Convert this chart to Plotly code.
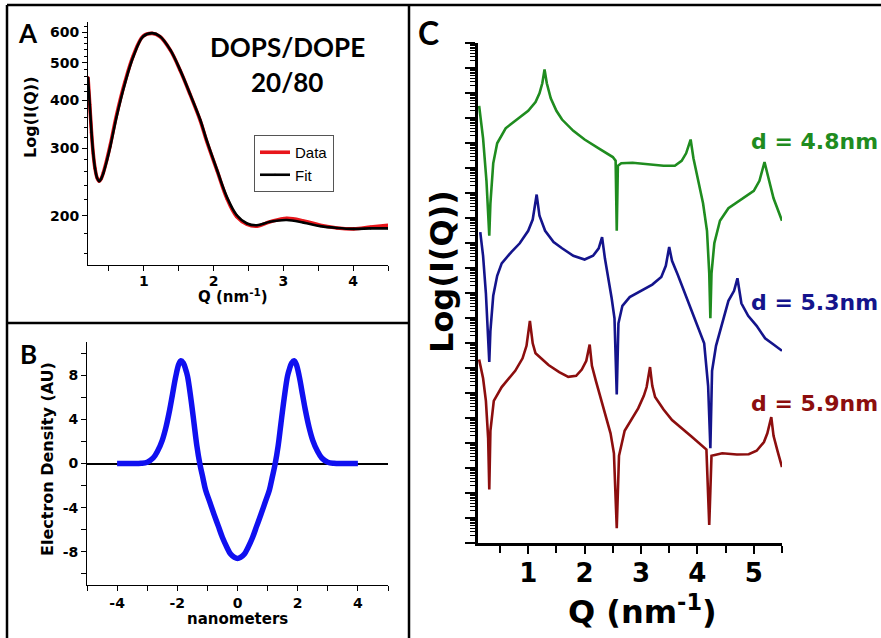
import plotly.graph_objects as go
import numpy as np

W, H = 881, 638
def X(p): return p / W
def Y(p): return 1 - p / H

# ---------------- Panel A: scattering curve ----------------
qA = [0.2, 0.225, 0.25, 0.275, 0.30, 0.33, 0.36, 0.39, 0.42, 0.47, 0.52, 0.61, 0.73,
      0.85, 0.99, 1.12, 1.23, 1.38, 1.52, 1.66, 1.81, 1.90, 2.05, 2.19, 2.33, 2.48,
      2.62, 2.81, 3.05, 3.29, 3.53, 3.77, 4.01, 4.25, 4.5]
fitA = [458, 390, 330, 290, 266, 251, 246, 250, 258, 278, 303, 362, 442,
        519, 585, 597, 586, 540, 479, 416, 355, 315, 263, 224, 201, 191,
        189, 193, 195, 192, 188, 186, 185, 185.5, 185.5]
dataA = [458, 390, 330, 290, 266, 251, 246, 250, 259, 280, 306, 366, 446,
         522, 586, 596, 585, 539, 478, 415, 353, 313, 262, 222, 199, 190,
         188, 193, 197, 194, 189, 186, 185, 187, 189]
yA_ticks = [200, 300, 400, 500, 600]
yA_minor = [160, 180, 220, 240, 260, 280, 320, 340, 360, 380, 420, 440, 460, 480,
            520, 540, 560, 580, 620]
xA_ticks = [1, 2, 3, 4]

# ---------------- Panel B: electron density ----------------
half_x = [-4.0, -3.5, -3.2, -3.0, -2.8, -2.65, -2.5, -2.38, -2.25, -2.16, -2.05, -1.95,
          -1.88, -1.8, -1.72, -1.66, -1.55, -1.44, -1.35, -1.25, -1.15, -1.06, -0.92,
          -0.78, -0.64, -0.5, -0.35, -0.23, -0.1, 0.0]
half_rho = [0, 0, 0.02, 0.12, 0.5, 1.15, 2.1, 3.25, 4.9, 6.25, 7.9, 9.0,
            9.3, 9.1, 8.5, 7.9, 5.9, 3.55, 1.6, -0.05, -1.3, -2.4, -3.5,
            -4.6, -5.65, -6.7, -7.6, -8.2, -8.5, -8.6]
xB = half_x + [-v for v in half_x[-2::-1]]
rhoB = half_rho + half_rho[-2::-1]
xB_ticks = [-4, -2, 0, 2, 4]
xB_text = ["-4", "-2", "0", "2", "4"]
yB_ticks = [-8, -4, 0, 4, 8]
yB_text = ["-8", "-4", "0", "4", "8"]

# ---------------- Panel C: simulated curves (log10 intensity, decades) ----------------
qG = [0.13, 0.2, 0.26, 0.30, 0.31, 0.33, 0.38, 0.45, 0.6, 0.8, 1.0, 1.13, 1.2, 1.25, 1.29,
      1.33, 1.4, 1.5, 1.6, 1.8, 2.0, 2.25, 2.5, 2.55, 2.57, 2.59, 2.65, 2.85, 3.1, 3.4,
      3.6, 3.72, 3.8, 3.88, 3.93, 4.0, 4.1, 4.17, 4.21, 4.23, 4.25, 4.3, 4.4, 4.55, 4.75,
      5.0, 5.1, 5.19, 5.25, 5.35, 5.5]
vG = [17.5, 16.2, 14.5, 12.8, 12.3, 13.6, 15.2, 16.0, 16.6, 16.95, 17.3, 17.65, 18.0, 18.4, 18.95,
      18.4, 17.8, 17.3, 16.95, 16.5, 16.15, 15.8, 15.45, 15.3, 12.5, 15.1, 15.2, 15.22, 15.17, 15.1,
      15.1, 15.3, 15.6, 16.15, 15.4, 14.7, 13.6, 12.5, 10.8, 9.0, 10.8, 12.0, 12.9, 13.4, 13.7,
      14.1, 14.5, 15.25, 14.7, 13.8, 12.9]
qBl = [0.15, 0.2, 0.25, 0.29, 0.31, 0.33, 0.38, 0.45, 0.53, 0.7, 0.85, 1.0, 1.08, 1.15, 1.2,
       1.3, 1.45, 1.6, 1.8, 2.0, 2.15, 2.25, 2.31, 2.36, 2.41, 2.48, 2.53, 2.57, 2.60, 2.67,
       2.8, 3.0, 3.2, 3.36, 3.44, 3.5, 3.55, 3.65, 3.8, 4.0, 4.12, 4.19, 4.23, 4.26, 4.33,
       4.41, 4.55, 4.65, 4.71, 4.78, 4.9, 5.05, 5.2, 5.35, 5.5]
vBl = [12.45, 11.5, 10.0, 8.5, 7.25, 8.5, 9.9, 10.7, 11.2, 11.65, 12.0, 12.5, 12.95, 13.95, 13.1,
       12.5, 12.05, 11.8, 11.5, 11.35, 11.5, 11.8, 12.25, 11.4, 10.8, 9.8, 9.0, 5.95, 8.8, 9.5,
       9.85, 10.1, 10.35, 10.65, 11.1, 11.85, 11.3, 10.75, 9.9, 8.7, 8.0, 6.3, 3.8, 6.9, 7.9,
       8.55, 9.7, 10.1, 10.6, 9.6, 9.1, 8.7, 8.2, 7.95, 7.7]
qR = [0.13, 0.2, 0.25, 0.29, 0.31, 0.33, 0.39, 0.53, 0.77, 0.9, 0.97, 1.03, 1.08, 1.13, 1.36,
      1.55, 1.71, 1.85, 1.95, 2.03, 2.09, 2.13, 2.2, 2.37, 2.46, 2.52, 2.57, 2.61, 2.71, 2.95,
      3.05, 3.1, 3.16, 3.2, 3.25, 3.4, 3.55, 3.9, 4.16, 4.21, 4.25, 4.44, 4.7, 4.91, 5.05,
      5.18, 5.24, 5.31, 5.35, 5.42, 5.5]
vR = [7.35, 6.6, 5.7, 4.2, 2.15, 4.5, 5.7, 6.25, 6.9, 7.4, 7.9, 8.9, 8.0, 7.6, 7.13,
      6.85, 6.66, 6.7, 6.95, 7.3, 7.95, 7.1, 6.5, 5.05, 4.4, 3.6, 0.6, 3.5, 4.5, 5.4,
      5.9, 6.25, 7.05, 6.3, 5.85, 5.35, 4.93, 4.26, 3.75, 0.73, 3.5, 3.6, 3.55, 3.56, 3.7,
      4.05, 4.4, 5.05, 4.3, 3.7, 3.05]
labelsC = ["d = 4.8nm", "d = 5.3nm", "d = 5.9nm"]
colorsC = ["#1f8c1f", "#14148c", "#8c0e0e"]
xC_ticks = [1, 2, 3, 4, 5]
yC_major = [10.0 ** k for k in range(21)]
yC_minor = [m * 10.0 ** k for k in range(20) for m in range(2, 10)]

fig = go.Figure()
fig.add_trace(go.Scatter(x=qA, y=dataA, name="Data", mode="lines+markers",
                         line=dict(color="#e8161b", width=3.6, shape="spline"),
                         marker=dict(size=3, color="#e8161b"), xaxis="x", yaxis="y"))
fig.add_trace(go.Scatter(x=qA, y=fitA, name="Fit", mode="lines+markers",
                         line=dict(color="black", width=2.6, shape="spline"),
                         marker=dict(size=2, color="black"), xaxis="x", yaxis="y"))
fig.add_trace(go.Scatter(x=xB, y=rhoB, mode="lines", showlegend=False,
                         line=dict(color="#1010f0", width=5.5, shape="spline"),
                         xaxis="x2", yaxis="y2"))
for q, v, c in zip([qG, qBl, qR], [vG, vBl, vR], colorsC):
    fig.add_trace(go.Scatter(x=q, y=np.power(10.0, v), mode="lines", showlegend=False,
                             line=dict(color=c, width=2.6), xaxis="x3", yaxis="y3"))

tf_small = dict(family="DejaVu Sans", size=14, color="black", weight="bold")
tf_big = dict(family="DejaVu Sans", size=26, color="black", weight="bold")
common = dict(showgrid=False, zeroline=False, showline=True, linecolor="black",
              ticks="outside", tickcolor="black")

fig.update_layout(
    width=W, height=H, margin=dict(l=0, r=0, t=0, b=0),
    paper_bgcolor="white", plot_bgcolor="white",
    xaxis=dict(domain=[X(88), X(388)], anchor="y", range=[0.2, 4.5],
               tickvals=xA_ticks, ticklen=5, tickwidth=1, linewidth=1,
               tickfont=tf_small, ticklabelstandoff=-2,
               minor=dict(dtick=0.5, tick0=0, ticks="outside", ticklen=5,
                          tickcolor="black"), **common),
    yaxis=dict(domain=[Y(265), Y(22)], anchor="x", type="log",
               range=[np.log10(149), np.log10(638)], tickvals=yA_ticks,
               ticktext=[str(v) for v in yA_ticks], ticklen=5, linewidth=1,
               tickfont=tf_small, minor=dict(tickvals=yA_minor, ticks="outside", ticklen=3,
                                             tickcolor="black"), **common),
    xaxis2=dict(domain=[X(87), X(388)], anchor="y2", range=[-5, 5],
                tickvals=xB_ticks, ticktext=xB_text, ticklen=5, linewidth=1,
                tickfont=tf_small, minor=dict(dtick=1, tick0=0, ticks="outside", ticklen=5,
                                              tickcolor="black"), **common),
    yaxis2=dict(domain=[Y(585), Y(342)], anchor="x2", range=[-11, 11],
                tickvals=yB_ticks, ticktext=yB_text, ticklen=5, linewidth=1,
                tickfont=tf_small, minor=dict(dtick=2, tick0=0, ticks="outside", ticklen=5,
                                              tickcolor="black"),
                showgrid=False, showline=True, linecolor="black", ticks="outside",
                tickcolor="black", zeroline=True, zerolinecolor="black", zerolinewidth=1.6),
    xaxis3=dict(domain=[X(478), X(782)], anchor="y3", range=[0.11, 5.5],
                tickvals=xC_ticks, ticklen=8, tickwidth=2, linewidth=3,
                tickfont=tf_big, ticklabelstandoff=-4,
                minor=dict(dtick=0.5, tick0=0, ticks="outside", ticklen=7, tickwidth=2,
                           tickcolor="black"), **common),
    yaxis3=dict(domain=[Y(543.3), Y(43.3)], anchor="x3", type="log", range=[0, 20],
                tickvals=yC_major, showticklabels=False, ticklen=10, tickwidth=2, linewidth=3,
                minor=dict(tickvals=yC_minor, ticks="outside", ticklen=5, tickwidth=1,
                           tickcolor="black"), **common),
    legend=dict(x=X(254), y=Y(135), xanchor="left", yanchor="top",
                bordercolor="#555", borderwidth=1, bgcolor="white",
                font=dict(family="Liberation Sans", size=15, color="black"),
                itemwidth=30, tracegroupgap=0),
)

ann = []
def A(text, x, y, size, family="DejaVu Sans", color="black", angle=0):
    ann.append(dict(text=text, x=X(x), y=Y(y), xref="paper", yref="paper",
                    xanchor="center", yanchor="middle", showarrow=False, textangle=angle,
                    font=dict(family=family, size=size, color=color, weight="bold")))

A("A", 28, 33, 26, "Lato")
A("B", 28, 354, 26, "Lato")
A("C", 428, 33, 32, "Lato")
A("DOPS/DOPE", 287, 47, 26, "Lato")
A("20/80", 287, 82, 26, "Lato")
A("Log(I(Q))", 31, 118, 16, angle=-90)
A("Q (nm<sup>-1</sup>)", 233, 296, 15)
A("Electron Density (AU)", 47, 459, 16, angle=-90)
A("nanometers", 237, 619, 15)
A("Log(I(Q))", 442, 272, 32, angle=-90)
A("Q (nm<sup>-1</sup>)", 642, 610, 32)
for t, c, yy in zip(labelsC, colorsC, [142, 302, 403]):
    A(t, 814, yy, 22, color=c)
fig.update_layout(annotations=ann)

shapes = []
def L(x0, y0, x1, y1):
    shapes.append(dict(type="line", xref="paper", yref="paper", x0=X(x0), y0=Y(y0),
                       x1=X(x1), y1=Y(y1), line=dict(color="black", width=2.5)))
L(7, 5, 881, 5)
L(7, 5, 7, 638)
L(409, 5, 409, 638)
L(7, 323, 409, 323)
fig.update_layout(shapes=shapes)

fig.write_html("out.html", config={"displayModeBar": False},
               post_script="document.body.style.margin='0';document.body.style.overflow='hidden';")
